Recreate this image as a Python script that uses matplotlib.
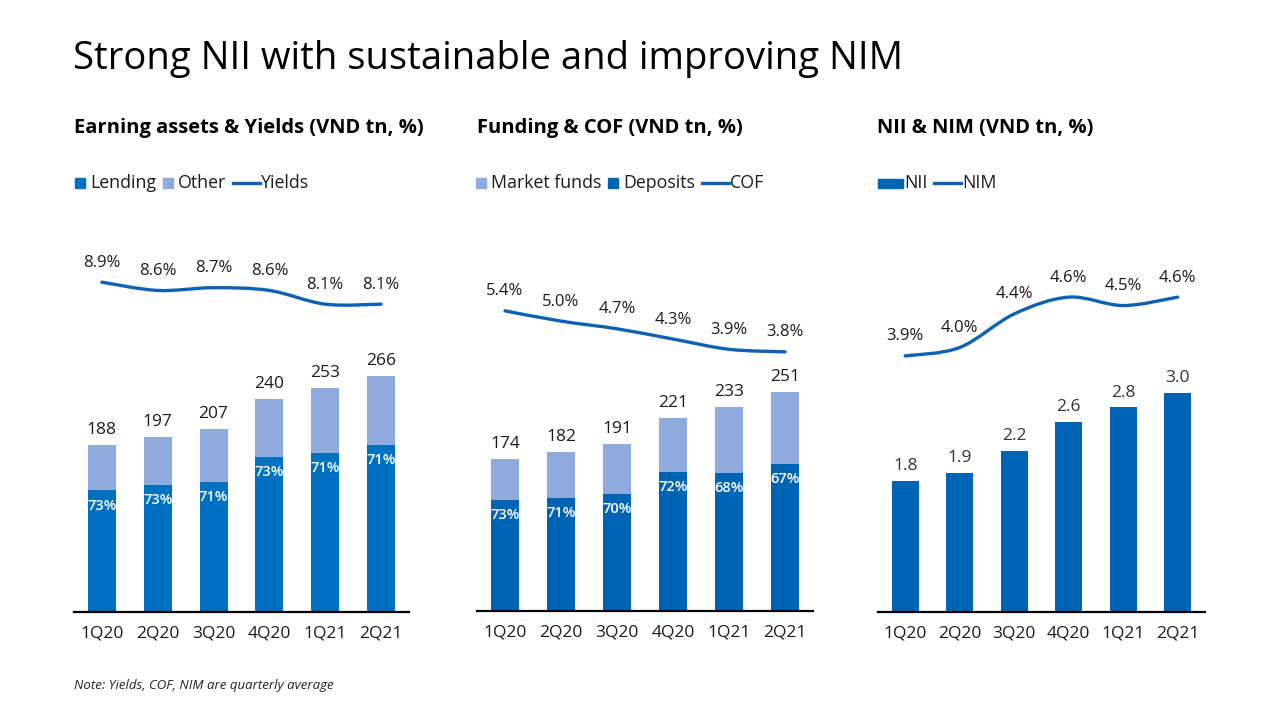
import matplotlib
matplotlib.use("Agg")
import matplotlib.pyplot as plt
from matplotlib.path import Path
from matplotlib.patches import PathPatch, Rectangle
from matplotlib.lines import Line2D

# --- Datos ---
quarters = ["1Q20", "2Q20", "3Q20", "4Q20", "1Q21", "2Q21"]

earning_total = [188, 197, 207, 240, 253, 266]
lending_share = [73, 73, 71, 73, 71, 71]
yields = [8.9, 8.6, 8.7, 8.6, 8.1, 8.1]

funding_total = [174, 182, 191, 221, 233, 251]
deposit_share = [73, 71, 70, 72, 68, 67]
cof = [5.4, 5.0, 4.7, 4.3, 3.9, 3.8]

nii = [1.8, 1.9, 2.2, 2.6, 2.8, 3.0]
nim = [3.9, 4.0, 4.4, 4.6, 4.5, 4.6]

# --- Estilo ---
DARK = "#0070C0"
DARK2 = "#0064B4"
LIGHT = "#8FAADC"
LINE = "#0F62B3"
TXT = "#1a1a1a"
W, H = 1280, 720

plt.rcParams["font.family"] = ["Open Sans", "DejaVu Sans"]


def smooth_line(ax, xs, ys, color):
    """Dibuja una linea suavizada (estilo Excel) con curvas Bezier."""
    pts = list(zip(xs, ys))
    n = len(pts)
    verts = [pts[0]]
    codes = [Path.MOVETO]
    for i in range(n - 1):
        p0 = pts[i - 1] if i > 0 else pts[i]
        p1 = pts[i]
        p2 = pts[i + 1]
        p3 = pts[i + 2] if i + 2 < n else pts[i + 1]
        c1 = (p1[0] + (p2[0] - p0[0]) / 6, p1[1] + (p2[1] - p0[1]) / 6)
        c2 = (p2[0] - (p3[0] - p1[0]) / 6, p2[1] - (p3[1] - p1[1]) / 6)
        verts += [c1, c2, p2]
        codes += [Path.CURVE4] * 3
    ax.add_patch(PathPatch(Path(verts, codes), fill=False, edgecolor=color,
                           lw=2.4, capstyle="round"))


def base_axes(rect, ymax):
    ax = fig.add_axes(rect)
    ax.set_xlim(-0.5, 5.5)
    ax.set_ylim(0, ymax)
    for s in ["top", "right", "left"]:
        ax.spines[s].set_visible(False)
    ax.spines["bottom"].set_linewidth(1.6)
    ax.spines["bottom"].set_color("black")
    ax.set_yticks([])
    ax.set_xticks(range(len(quarters)))
    ax.set_xticklabels(quarters, fontsize=12.5, color=TXT)
    ax.tick_params(axis="x", length=0, pad=10)
    return ax


def line_axes(ax, vals, lo, hi):
    ax2 = ax.twinx()
    ax2.set_ylim(lo, hi)
    ax2.axis("off")
    smooth_line(ax2, range(len(vals)), vals, LINE)
    for i, v in enumerate(vals):
        ax2.annotate(f"{v:.1f}%", (i, v), xytext=(0, 14), textcoords="offset points",
                     ha="center", va="center", fontsize=12, color=TXT)
    return ax2


def draw_legend(x_px, y_px, items):
    """Leyenda manual en pixeles: ('sq'|'line'|'bar', color, texto)."""
    renderer = fig.canvas.get_renderer()
    yc = 1 - y_px / H
    for kind, color, label in items:
        if kind == "sq":
            fig.patches.append(Rectangle((x_px / W, (H - y_px - 5) / H), 10 / W, 10 / H,
                                         transform=fig.transFigure, color=color))
            x_px += 15
        elif kind == "bar":
            fig.patches.append(Rectangle((x_px / W, (H - y_px - 4.5) / H), 25 / W, 9 / H,
                                         transform=fig.transFigure, color=color))
            x_px += 26
        else:
            fig.lines.append(Line2D([x_px / W, (x_px + 27) / W], [yc, yc],
                                    transform=fig.transFigure, color=color, lw=2.4))
            x_px += 28
        t = fig.text(x_px / W, yc, label, fontsize=12.8, color=TXT, va="center")
        bb = t.get_window_extent(renderer)
        x_px = bb.x1 + 7


fig = plt.figure(figsize=(12.8, 7.2), dpi=100)

fig.text(0.057, 0.918, "Strong NII with sustainable and improving NIM",
         fontsize=27.5, color="black", va="center")
fig.text(0.058, 0.0485, "Note: Yields, COF, NIM are quarterly average",
         fontsize=9.5, style="italic", color="#222222", va="center")

x = range(len(quarters))

# --- Panel 1: Earning assets & Yields ---
ax1 = base_axes([0.0578, 0.15, 0.2617, 0.5306], 431)
lend = [t * s / 100 for t, s in zip(earning_total, lending_share)]
other = [t - l for t, l in zip(earning_total, lend)]
ax1.bar(x, lend, width=0.5, color=DARK)
ax1.bar(x, other, width=0.5, bottom=lend, color=LIGHT)
for i in x:
    ax1.annotate(f"{lending_share[i]}%", (i, lend[i]), xytext=(0, -11),
                 textcoords="offset points", ha="center", va="center",
                 fontsize=10.5, color="white", fontweight="semibold")
    ax1.annotate(f"{earning_total[i]}", (i, earning_total[i]), xytext=(0, 5),
                 textcoords="offset points", ha="center", va="bottom",
                 fontsize=12.5, color=TXT)
line_axes(ax1, yields, -3.1, 10.8)
fig.text(0.058, 0.822, "Earning assets & Yields (VND tn, %)", fontsize=14.5,
         fontweight="bold", va="center")
draw_legend(75, 183, [("sq", DARK, "Lending"), ("sq", LIGHT, "Other"),
                      ("line", LINE, "Yields")])

# --- Panel 2: Funding & COF ---
ax2 = base_axes([0.3727, 0.1514, 0.2625, 0.5292], 436)
dep = [t * s / 100 for t, s in zip(funding_total, deposit_share)]
mkt = [t - d for t, d in zip(funding_total, dep)]
ax2.bar(x, dep, width=0.5, color=DARK2)
ax2.bar(x, mkt, width=0.5, bottom=dep, color=LIGHT)
for i in x:
    ax2.annotate(f"{deposit_share[i]}%", (i, dep[i]), xytext=(0, -11),
                 textcoords="offset points", ha="center", va="center",
                 fontsize=10.5, color="white", fontweight="semibold")
    ax2.annotate(f"{funding_total[i]}", (i, funding_total[i]), xytext=(0, 5),
                 textcoords="offset points", ha="center", va="bottom",
                 fontsize=12.5, color=TXT)
line_axes(ax2, cof, -6.32, 8.56)
fig.text(0.373, 0.822, "Funding & COF (VND tn, %)", fontsize=14.5,
         fontweight="bold", va="center")
draw_legend(476, 183, [("sq", LIGHT, "Market funds"), ("sq", DARK2, "Deposits"),
                       ("line", LINE, "COF")])

# --- Panel 3: NII & NIM ---
ax3 = base_axes([0.6859, 0.15, 0.2555, 0.5306], 5.23)
ax3.bar(x, nii, width=0.5, color=DARK2)
for i in x:
    ax3.annotate(f"{nii[i]:.1f}", (i, nii[i]), xytext=(0, 5),
                 textcoords="offset points", ha="center", va="bottom",
                 fontsize=12.5, color="#333333")
line_axes(ax3, nim, 0.85, 5.40)
fig.text(0.685, 0.822, "NII & NIM (VND tn, %)", fontsize=14.5,
         fontweight="bold", va="center")
draw_legend(878, 183, [("bar", DARK2, "NII"), ("line", LINE, "NIM")])

fig.savefig("out.png", dpi=100)
